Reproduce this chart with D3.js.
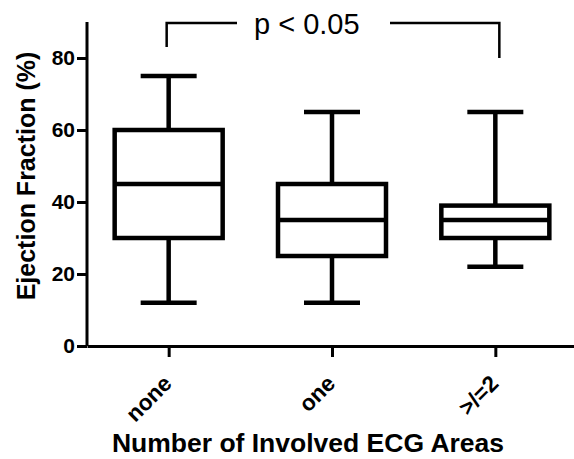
<!DOCTYPE html>
<html lang="en">
<head>
<meta charset="UTF-8">
<title>Ejection Fraction box plot</title>
<style>
  body { margin: 0; background: #fff; }
  svg { display: block; font-family: "Liberation Sans", Arial, sans-serif; }
  .axis path, .axis line { stroke: #000; stroke-width: 3; }
  .axis text { font-size: 21px; font-weight: bold; fill: #000; }
</style>
</head>
<body>
<svg></svg>
<script src="https://cdn.jsdelivr.net/npm/d3@7"></script>
<script>
// categories + box stats (min, q1, median, q3, max)
var groups = ["none", "one", ">/=2"];
var mins = [12, 12, 22];
var q1s = [30, 25, 30];
var medians = [45, 35, 35];
var q3s = [60, 45, 39];
var maxs = [75, 65, 65];
var yTicks = [0, 20, 40, 60, 80];

var w = 574, h = 459;
var svg = d3.select("svg").attr("width", w).attr("height", h);
var padding = {top: 22, left: 87, right: -3, bottom: 113};

var x = d3.scalePoint()
  .domain(groups)
  .range([padding.left, w - padding.right])
  .padding(0.5);

var y = d3.scaleLinear()
  .domain([0, 90])
  .range([h - padding.bottom, padding.top]);

var boxW = 108, capW = 56;

// axes
var xAxis = svg.append("g").attr("class", "axis")
  .attr("transform", "translate(0," + y(0) + ")")
  .call(d3.axisBottom(x).tickSize(11).tickSizeOuter(0));
xAxis.selectAll("text")
  .attr("text-anchor", "end")
  .attr("x", 0).attr("y", 0).attr("dy", 0)
  .style("font-size", "22.5px")
  .attr("transform", "translate(4,39) rotate(-45)");

svg.append("g").attr("class", "axis")
  .attr("transform", "translate(" + padding.left + ",0)")
  .call(d3.axisLeft(y).tickValues(yTicks).tickSize(10).tickSizeOuter(0).tickPadding(2))
  .select(".domain").attr("d", "M0," + y(0) + "V" + y(90));

// boxes
var box = svg.append("g").selectAll("g")
  .data(groups)
  .join("g")
  .attr("stroke", "#000")
  .attr("stroke-width", 4.5)
  .attr("fill", "none");

box.append("line")
  .attr("x1", function(d) { return x(d); })
  .attr("x2", function(d) { return x(d); })
  .attr("y1", function(d, i) { return y(maxs[i]); })
  .attr("y2", function(d, i) { return y(mins[i]); });

box.append("rect")
  .attr("x", function(d) { return x(d) - boxW / 2; })
  .attr("width", boxW)
  .attr("y", function(d, i) { return y(q3s[i]); })
  .attr("height", function(d, i) { return y(q1s[i]) - y(q3s[i]); })
  .attr("fill", "#fff");

box.append("line")
  .attr("x1", function(d) { return x(d) - boxW / 2; })
  .attr("x2", function(d) { return x(d) + boxW / 2; })
  .attr("y1", function(d, i) { return y(medians[i]); })
  .attr("y2", function(d, i) { return y(medians[i]); });

[maxs, mins].forEach(function(arr) {
  box.append("line")
    .attr("x1", function(d) { return x(d) - capW / 2; })
    .attr("x2", function(d) { return x(d) + capW / 2; })
    .attr("y1", function(d, i) { return y(arr[i]); })
    .attr("y2", function(d, i) { return y(arr[i]); });
});

// significance bracket
var bx1 = x(groups[0]) - 2, bx2 = x(groups[2]) + 4, by = 23;
var br = svg.append("g").attr("stroke", "#000").attr("stroke-width", 2.5).attr("fill", "none");
br.append("path").attr("d", "M" + bx1 + ",47V" + by + "H237");
br.append("path").attr("d", "M390," + by + "H" + bx2 + "V58");
svg.append("text")
  .attr("x", 254).attr("y", 34)
  .attr("font-size", 29)
  .text("p < 0.05");

// axis titles
svg.append("text")
  .attr("x", 308).attr("y", 452)
  .attr("text-anchor", "middle")
  .attr("font-size", 26.5).attr("font-weight", "bold")
  .text("Number of Involved ECG Areas");

svg.append("text")
  .attr("transform", "translate(35,176) rotate(-90)")
  .attr("text-anchor", "middle")
  .attr("font-size", 25).attr("font-weight", "bold")
  .text("Ejection Fraction (%)");
</script>
</body>
</html>
